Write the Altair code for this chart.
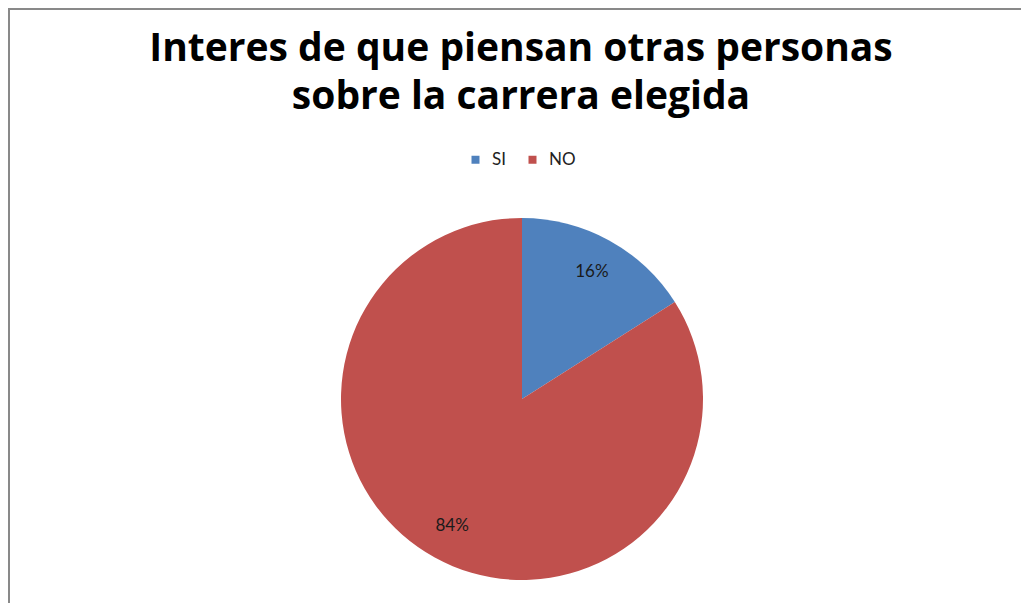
import altair as alt
import pandas as pd

categories = ["SI", "NO"]
percent = [16, 84]
colors = ["#4F81BD", "#C0504D"]
title_lines = ["Interes de que piensan otras personas", "sobre la carrera elegida"]

W, H = 1013, 595
CX, CY = 514, 391
R = 181
FONT = "Lato"

df = pd.DataFrame({
    "cat": categories,
    "pct": percent,
    "order": list(range(len(categories))),
    "label": [f"{p}%" for p in percent],
})
one = pd.DataFrame({"k": [0]})

base = alt.Chart(df).encode(
    theta=alt.Theta("pct:Q", stack=True),
    order=alt.Order("order:Q"),
    x=alt.value(CX),
    y=alt.value(CY),
)

pie = base.mark_arc(outerRadius=R).encode(
    color=alt.Color(
        "cat:N",
        scale=alt.Scale(domain=categories, range=colors),
        legend=alt.Legend(
            orient="none", legendX=459, legendY=143, direction="horizontal",
            title=None, symbolType="square", symbolSize=64, symbolStrokeWidth=0,
            labelFont=FONT, labelFontSize=17, labelColor="#222222",
            labelOffset=8, columnPadding=18, padding=0,
        ),
    )
)

labels = base.mark_text(radius=145, font=FONT, fontSize=17, color="#1a1a1a").encode(
    text="label:N"
)

title_layers = []
for i, line in enumerate(title_lines):
    title_layers.append(
        alt.Chart(one).mark_text(
            text=line, font="Open Sans", fontSize=39, fontWeight="bold", color="#000000",
            align="center", baseline="alphabetic",
        ).encode(x=alt.value(513), y=alt.value(53 + 48 * i))
    )

border_top = alt.Chart(one).mark_rule(color="#898989", strokeWidth=2).encode(
    x=alt.value(0), x2=alt.value(W), y=alt.value(1), y2=alt.value(1)
)
border_left = alt.Chart(one).mark_rule(color="#898989", strokeWidth=2).encode(
    x=alt.value(1), x2=alt.value(1), y=alt.value(0), y2=alt.value(H)
)

chart = alt.layer(border_top, border_left, *title_layers, pie, labels).properties(
    width=W, height=H, autosize=alt.AutoSizeParams(type="none"), padding=0,
    background="#ffffff",
).configure_view(strokeWidth=0, stroke="transparent")

chart.save("out.html", embed_options={"renderer": "svg", "actions": False})
